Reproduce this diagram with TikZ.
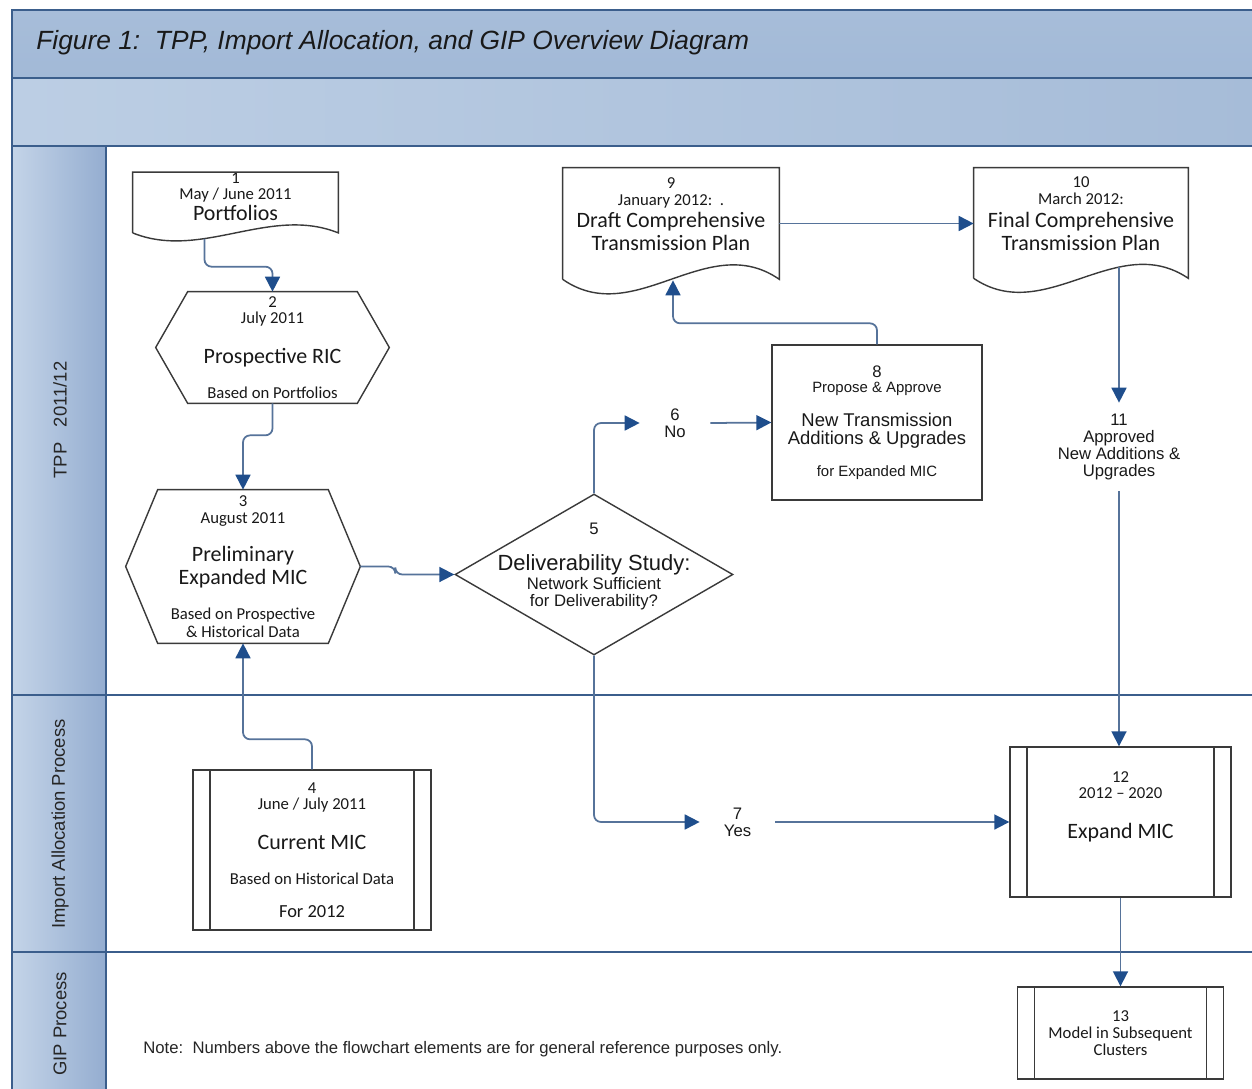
\documentclass[tikz,border=0pt]{standalone}
\usepackage{fontspec}
\setmainfont{Carlito}
\newfontfamily\arialfont{Liberation Sans}
\usetikzlibrary{arrows.meta,calc,shapes.geometric}

\definecolor{laneline}{HTML}{3B5E8C}
\definecolor{lanelight}{HTML}{C4D4E8}
\definecolor{lanedark}{HTML}{94ADD0}
\definecolor{bandtop}{HTML}{A7BDD9}
\definecolor{bandbot}{HTML}{A2B9D7}
\definecolor{bandleft}{HTML}{BCCEE4}
\definecolor{bandright}{HTML}{A6BCD8}
\definecolor{flowline}{HTML}{56739A}
\definecolor{tipblue}{HTML}{1F4E8C}
\definecolor{shapegrey}{HTML}{3A3A3A}

\newcommand\smallcal{\fontsize{9.5}{0}\selectfont}
\newcommand\bigcal{\fontsize{12.5}{0}\selectfont}
\newcommand\smallar{\arialfont\fontsize{9.5}{0}\selectfont}
\newcommand\tinyar{\arialfont\fontsize{8.5}{0}\selectfont}
\newcommand\midar{\arialfont\fontsize{10.5}{0}\selectfont}
\newcommand\bigar{\arialfont\fontsize{12.5}{0}\selectfont}

\newcommand\hexoutline[2]{\draw[outline] ($(#1.north west)+(#2,0)$) -- ($(#1.north east)+(-#2,0)$) -- (#1.east)
  -- ($(#1.south east)+(-#2,0)$) -- ($(#1.south west)+(#2,0)$) -- (#1.west) -- cycle;}
\newcommand\docoutline[2]{\draw[outline] (#1.south west) -- (#1.north west) -- (#1.north east) -- (#1.south east)
  .. controls ($(#1.south)!1/3!(#1.south east)+(0,-3.46*#2)$) and ($(#1.south)!1/3!(#1.south west)+(0,3.46*#2)$) .. (#1.south west);}

\lineskiplimit=-100pt

\begin{document}
\begin{tikzpicture}[x=0.02cm, y=-0.02cm,
  txt/.style={align=center, inner sep=0pt, text=black!90, font=\smallcal},
  artxt/.style={txt, font=\smallar},
  outline/.style={draw=shapegrey, line width=0.8pt},
  proc/.style={artxt, outline},
  subproc/.style={txt, outline, path picture={
    \draw[shapegrey, line width=0.8pt]
      ([xshift=0.34cm]path picture bounding box.north west) -- ([xshift=0.34cm]path picture bounding box.south west)
      ([xshift=-0.34cm]path picture bounding box.north east) -- ([xshift=-0.34cm]path picture bounding box.south east);}},
  decision/.style={diamond, outline, inner sep=0pt},
  flow/.style={draw=flowline, line width=1pt, rounded corners=4pt, -{Triangle[length=8.5pt,width=8.5pt,color=tipblue]}},
  lanelabel/.style={rotate=90, text=black!85, font=\arialfont\fontsize{10.5}{12}\selectfont}]

  \useasboundingbox (0,0) rectangle (1252,1089);
  \clip (0,0) rectangle (1252,1089);
  \fill[white] (0,0) rectangle (1252,1089);

  \shade[top color=bandtop, bottom color=bandbot] (12,10) rectangle (1262,78);
  \shade[left color=bandleft, right color=bandright] (12,78) rectangle (1262,146);
  \foreach \ya/\yb in {146/695, 695/952, 952/1095}
    \shade[left color=lanelight, right color=lanedark] (12,\ya) rectangle (106,\yb);
  \draw[laneline, line width=1.2pt] (12,10) rectangle (1262,1095);
  \foreach \y in {78, 146, 695, 952}
    \draw[laneline, line width=1.2pt] (12,\y) -- (1262,\y);
  \draw[laneline, line width=1.2pt] (106,146) -- (106,1095);

  \node[anchor=west, inner sep=0pt, text=black!90, font=\arialfont\itshape\fontsize{15}{17}\selectfont] (title) at (36,43)
    {Figure 1:~~TPP, Import Allocation, and GIP Overview Diagram};
  \node[lanelabel] (laneTPP) at (60,420) {TPP~~~2011/12};
  \node[lanelabel] (laneIA) at (60,824) {Import Allocation Process};
  \node[lanelabel] (laneGIP) at (60,1024) {GIP Process};

  \node[txt, minimum width=4.1cm, minimum height=1.18cm] (n1) at (235.5,202.5)
    {1\\[9.3pt]May / June 2011\\[12pt]{\bigcal Portfolios}\\[6.8pt]\mbox{}};
  \docoutline{n1}{8}
  \node[txt, minimum width=4.66cm, minimum height=2.22cm] (n2) at (272.5,347.5)
    {2\\[9pt]July 2011\\[22.7pt]{\bigcal Prospective RIC}\\[19.8pt]Based on Portfolios};
  \hexoutline{n2}{32}
  \node[txt, minimum width=4.68cm, minimum height=3.06cm] (n3) at (243,566.5)
    {3\\[9.6pt]August 2011\\[22pt]{\bigcal Preliminary}\\[13pt]{\bigcal Expanded MIC}\\[19.8pt]Based on Prospective\\[10.2pt]\& Historical Data};
  \hexoutline{n3}{32}
  \node[subproc, minimum width=4.76cm, minimum height=3.2cm] (n4) at (312,850)
    {4\\[9.6pt]June / July 2011\\[22.7pt]{\bigcal Current MIC}\\[19.8pt]Based on Historical Data\\[18.7pt]{\fontsize{10.5}{0}\selectfont For 2012}};
  \node[decision, minimum width=5.56cm, minimum height=3.22cm] (n5) at (594,574.5) {};
  \node[artxt] (n5txt) at (594,566.5)
    {5\\[20.4pt]{\bigar Deliverability Study:}\\[11pt]Network Sufficient\\[9.8pt]for Deliverability?};
  \node[artxt, minimum width=1.4cm] (n6) at (675,423) {6\\[9.6pt]No};
  \node[artxt, minimum width=1.5cm] (n7) at (737.5,822) {7\\[9.6pt]Yes};
  \node[proc, minimum width=4.2cm, minimum height=3.1cm] (n8) at (877,422.5)
    {8\\[9pt]{\tinyar Propose \& Approve}\\[19.3pt]{\midar New Transmission}\\[10.2pt]{\midar Additions \& Upgrades}\\[18.1pt]{\tinyar for Expanded MIC}};
  \node[txt, minimum width=4.32cm, minimum height=2.22cm] (n9) at (671,223.5)
    {9\\[9.6pt]January 2012:~~.\\[13pt]{\bigcal Draft Comprehensive}\\[13pt]{\bigcal Transmission Plan}\\[10.8pt]\mbox{}};
  \docoutline{n9}{14.5}
  \node[txt, minimum width=4.28cm, minimum height=2.2cm] (n10) at (1081,223)
    {10\\[9.6pt]March 2012:\\[13pt]{\bigcal Final Comprehensive}\\[13pt]{\bigcal Transmission Plan}\\[10.8pt]\mbox{}};
  \docoutline{n10}{14}
  \node[artxt, minimum height=1.76cm] (n11) at (1119,447)
    {11\\[9.6pt]Approved\\[9.6pt]New Additions \&\\[9.6pt]Upgrades};
  \node[subproc, minimum width=4.42cm, minimum height=3cm] (n12) at (1120.5,822)
    {12\\[9.6pt]2012 – 2020\\[22.7pt]{\bigcal Expand MIC}\\[19.3pt]\mbox{}};
  \node[subproc, minimum width=4.12cm, minimum height=1.84cm] (n13) at (1120.5,1033)
    {13\\[9.6pt]Model in Subsequent\\[9.6pt]Clusters};

  \node[anchor=west, inner sep=0pt, text=black!85, font=\arialfont\fontsize{9.5}{11}\selectfont] (note) at (143,1049)
    {Note:~~Numbers above the flowchart elements are for general reference purposes only.};

  \draw[flow] ($(n1.south)+(-31,6)$) |- ($(n2.north)+(0,-25)$) -- (n2.north);
  \draw[flow] (n2.south) -- ++(0,32) -| (n3.north);
  \draw[flow] (n4.north) -- ++(0,-30) -| (n3.south);
  \draw[flow] (n3.east) -- ++(35,0) |- (n5.west);
  \draw[flow] (n5.north) |- (n6.west);
  \draw[flow] (n6.east) -- (n8.west);
  \draw[flow] (n5.south) |- (n7.west);
  \draw[flow] (n7.east) -- (n12.west);
  \draw[flow] (n8.north) -- ++(0,-21) -| ($(n9.south)+(2,1)$);
  \draw[flow] (n9.east) -- (n9.east -| n10.west);
  \draw[flow] ($(n11.north |- n10.south)+(0,-11)$) -- (n11.north);
  \draw[flow] (n11.south) -- (n11.south |- n12.north);
  \draw[flow] (n12.south) -- (n13.north);
\end{tikzpicture}
\end{document}
